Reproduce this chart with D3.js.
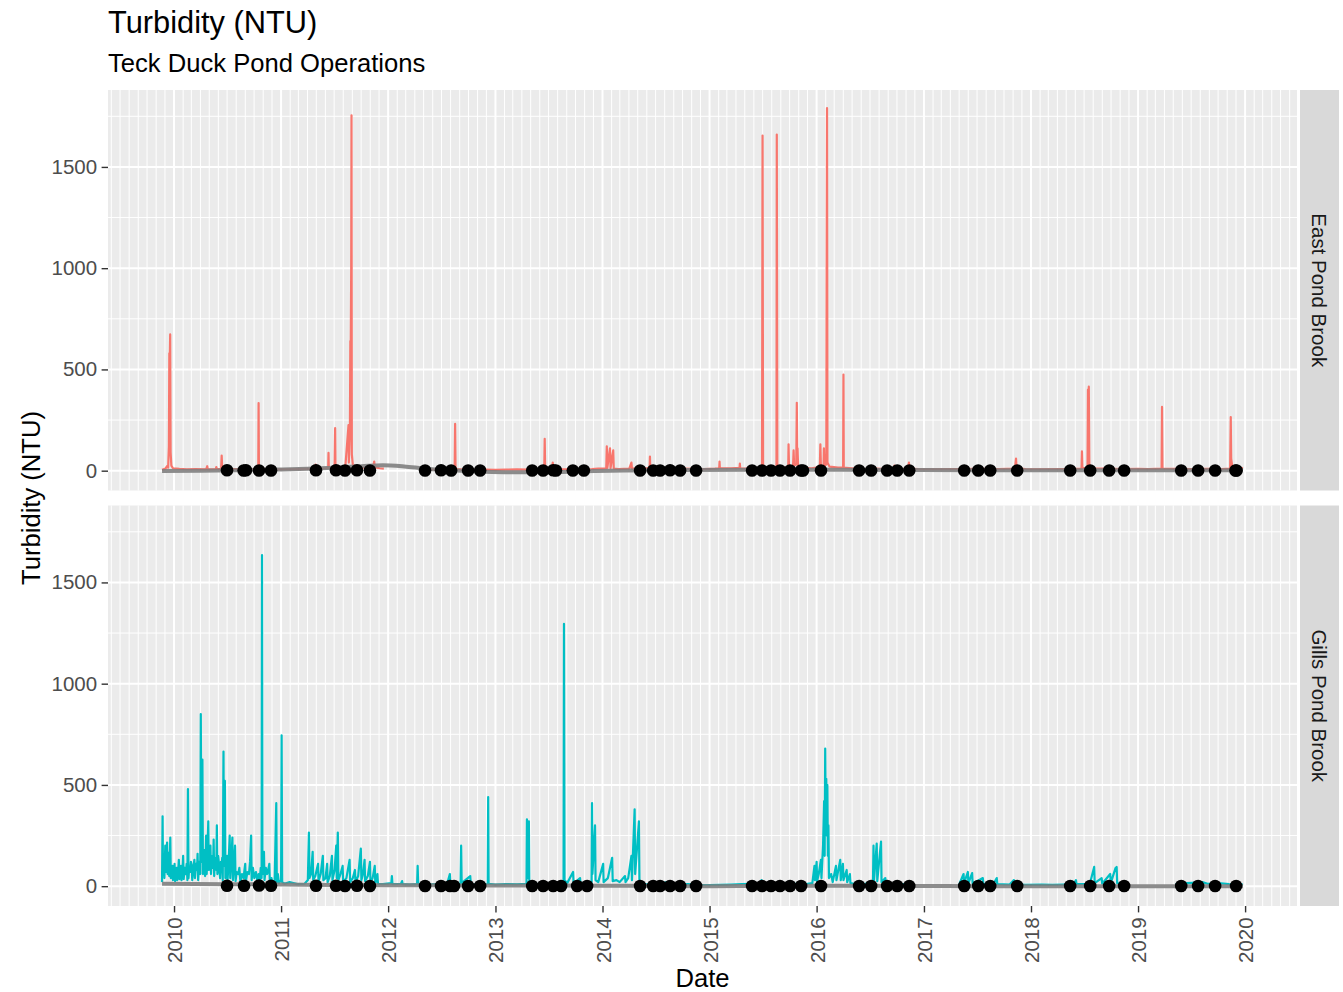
<!DOCTYPE html>
<html>
<head>
<meta charset="utf-8">
<script src="https://cdn.jsdelivr.net/npm/d3@7"></script>
<style>
  html, body { margin: 0; padding: 0; background: #ffffff; }
  svg { display: block; font-family: "Liberation Sans", Arial, sans-serif; }
</style>
</head>
<body>
<svg id="chart" width="1343" height="992"></svg>
<script>
// ---- Data (time as decimal year, turbidity in NTU) ----
const sites = ["East Pond Brook", "Gills Pond Brook"];
const siteColors = ["#F8766D", "#00BFC4"];

// Continuous logger record, East Pond Brook (null = no record)
const eastPondBrook = [
  [2009.888, 4], [2009.92, 10], [2009.935, 22], [2009.945, 15], [2009.952, 120], [2009.956, 580],
  [2009.960, 540], [2009.964, 673], [2009.968, 90], [2009.975, 25], [2009.99, 12], [2010.05, 9],
  [2010.12, 7], [2010.20, 8], [2010.30, 6], [2010.31, 22], [2010.315, 6], [2010.39, 7], [2010.395, 18],
  [2010.40, 7], [2010.44, 9], [2010.445, 75], [2010.45, 10], [2010.55, 8], [2010.65, 7], [2010.75, 9],
  [2010.787, 12], [2010.790, 334], [2010.793, 14], [2010.85, 8], [2010.95, 6], [2011.05, 7],
  [2011.15, 8], [2011.25, 9], [2011.32, 10], [2011.323, 30], [2011.326, 9], [2011.42, 12],
  [2011.44, 14], [2011.443, 88], [2011.446, 14], [2011.50, 12], [2011.505, 210], [2011.508, 15],
  [2011.56, 14], [2011.60, 18], [2011.63, 225], [2011.633, 40], [2011.643, 200], [2011.647, 640],
  [2011.651, 620], [2011.655, 1000], [2011.658, 1755], [2011.661, 80], [2011.67, 30], [2011.70, 20],
  [2011.75, 16], [2011.80, 14], [2011.86, 18], [2011.87, 45], [2011.875, 16], [2011.92, 12],
  [2011.96, 10], [2011.97, null],
  [2012.33, 8], [2012.40, 6], [2012.50, 5], [2012.58, 6], [2012.62, 7], [2012.624, 231],
  [2012.628, 8], [2012.70, 5], [2012.80, 4], [2012.90, 5], [2013.00, 4], [2013.10, 5], [2013.20, 6],
  [2013.30, 5], [2013.40, 8], [2013.456, 10], [2013.46, 157], [2013.464, 12], [2013.50, 10],
  [2013.53, 14], [2013.535, 40], [2013.54, 12], [2013.60, 8], [2013.70, 6], [2013.80, 7],
  [2013.90, 8], [2013.96, 10], [2014.035, 12], [2014.04, 120], [2014.045, 14], [2014.07, 110],
  [2014.075, 12], [2014.10, 100], [2014.105, 10], [2014.15, 8], [2014.25, 10], [2014.27, 40],
  [2014.275, 10], [2014.35, 12], [2014.44, 12], [2014.443, 70], [2014.446, 12], [2014.55, 10],
  [2014.65, 8], [2014.75, 10], [2014.85, 9], [2014.95, 8], [2015.05, 10], [2015.09, 12],
  [2015.093, 45], [2015.096, 12], [2015.20, 12], [2015.28, 14], [2015.283, 35], [2015.286, 12],
  [2015.40, 10], [2015.49, 12], [2015.495, 1655], [2015.50, 14], [2015.55, 12], [2015.625, 14],
  [2015.628, 1660], [2015.633, 15], [2015.70, 14], [2015.735, 20], [2015.738, 130], [2015.742, 18],
  [2015.78, 22], [2015.785, 100], [2015.79, 25], [2015.81, 30], [2015.815, 335], [2015.819, 30],
  [2015.822, 110], [2015.827, 20], [2015.87, 15], [2015.95, 12], [2016.03, 18], [2016.035, 130],
  [2016.04, 20], [2016.065, 25], [2016.068, 110], [2016.072, 25], [2016.09, 30], [2016.093, 900],
  [2016.097, 1790], [2016.101, 40], [2016.12, 20], [2016.20, 15], [2016.247, 15], [2016.25, 475],
  [2016.253, 15], [2016.35, 10], [2016.45, 8], [2016.55, 10], [2016.65, 8], [2016.72, 10],
  [2016.725, 25], [2016.73, 10], [2016.80, 8], [2016.85, 10], [2016.86, 40], [2016.865, 10],
  [2016.95, 8], [2017.10, 7], [2017.30, 8], [2017.50, 9], [2017.70, 8], [2017.85, 10],
  [2017.86, 60], [2017.865, 12], [2017.95, 8], [2018.10, 7], [2018.30, 8], [2018.472, 10],
  [2018.476, 95], [2018.48, 12], [2018.528, 14], [2018.532, 400], [2018.536, 60], [2018.540, 415],
  [2018.545, 20], [2018.60, 12], [2018.70, 10], [2018.85, 8], [2019.00, 9], [2019.10, 8],
  [2019.22, 10], [2019.224, 315], [2019.228, 10], [2019.35, 9], [2019.50, 8], [2019.65, 9],
  [2019.78, 8], [2019.86, 10], [2019.866, 265], [2019.87, 60], [2019.88, 20], [2019.98, 12]
];

// Continuous logger record, Gills Pond Brook (null = no record)
const gillsPondBrook = [
  [2009.888, 20], [2009.893, 345], [2009.897, 60], [2009.901, 150], [2009.905, 120], [2009.91, 40],
  [2009.914, 110], [2009.918, 200], [2009.922, 70], [2009.925, 80], [2009.93, 140], [2009.935, 215],
  [2009.94, 60], [2009.945, 110], [2009.95, 165], [2009.955, 50], [2009.96, 120], [2009.965, 240],
  [2009.97, 40], [2009.977, 80], [2009.985, 100], [2009.99, 30], [2009.995, 70], [2010.00, 60],
  [2010.005, 110], [2010.01, 25], [2010.018, 60], [2010.025, 90], [2010.03, 30], [2010.038, 70],
  [2010.045, 130], [2010.05, 35], [2010.058, 80], [2010.065, 100], [2010.07, 30], [2010.078, 60],
  [2010.085, 150], [2010.09, 35], [2010.10, 90], [2010.11, 60], [2010.118, 110], [2010.125, 30],
  [2010.13, 480], [2010.135, 40], [2010.142, 90], [2010.15, 70], [2010.158, 120], [2010.165, 100],
  [2010.17, 30], [2010.18, 90], [2010.19, 130], [2010.195, 40], [2010.205, 110], [2010.215, 80],
  [2010.22, 160], [2010.225, 30], [2010.235, 120], [2010.245, 60], [2010.25, 850], [2010.255, 200],
  [2010.26, 120], [2010.265, 625], [2010.27, 60], [2010.278, 180], [2010.285, 150], [2010.29, 50],
  [2010.295, 140], [2010.30, 250], [2010.305, 60], [2010.312, 170], [2010.32, 320], [2010.325, 80],
  [2010.332, 150], [2010.34, 200], [2010.345, 60], [2010.352, 130], [2010.36, 150], [2010.365, 90],
  [2010.37, 230], [2010.375, 50], [2010.382, 140], [2010.39, 120], [2010.395, 80], [2010.40, 300],
  [2010.405, 60], [2010.412, 150], [2010.42, 110], [2010.43, 40], [2010.438, 120], [2010.445, 80],
  [2010.45, 140], [2010.455, 30], [2010.462, 665], [2010.466, 100], [2010.47, 180], [2010.475, 520],
  [2010.48, 40], [2010.488, 110], [2010.495, 150], [2010.50, 30], [2010.51, 120], [2010.52, 250],
  [2010.525, 40], [2010.535, 130], [2010.545, 240], [2010.55, 30], [2010.56, 110], [2010.57, 200],
  [2010.575, 25], [2010.585, 70], [2010.60, 60], [2010.61, 90], [2010.62, 20], [2010.635, 60],
  [2010.65, 40], [2010.658, 80], [2010.665, 110], [2010.67, 20], [2010.685, 70], [2010.70, 60],
  [2010.71, 120], [2010.72, 250], [2010.725, 30], [2010.737, 90], [2010.75, 40], [2010.765, 70],
  [2010.78, 20], [2010.79, 60], [2010.80, 30], [2010.81, 90], [2010.818, 40], [2010.822, 1635],
  [2010.826, 60], [2010.833, 100], [2010.84, 170], [2010.845, 30], [2010.858, 90], [2010.87, 60],
  [2010.88, 80], [2010.89, 110], [2010.895, 20], [2010.91, 40], [2010.92, 15], [2010.94, 30],
  [2010.955, 410], [2010.96, 20], [2010.97, 60], [2010.98, 15], [2011.00, 30], [2011.005, 745],
  [2011.01, 20], [2011.03, 12], [2011.08, 20], [2011.15, 10], [2011.22, 12],
  [2011.25, 30], [2011.26, 265], [2011.265, 40], [2011.28, 60], [2011.295, 170], [2011.30, 30],
  [2011.32, 50], [2011.345, 110], [2011.35, 25], [2011.37, 60], [2011.39, 150], [2011.395, 30],
  [2011.415, 40], [2011.43, 110], [2011.435, 20], [2011.455, 50], [2011.475, 150], [2011.48, 30],
  [2011.50, 80], [2011.515, 200], [2011.52, 40], [2011.53, 265], [2011.535, 30], [2011.555, 60],
  [2011.575, 100], [2011.58, 20], [2011.61, 40], [2011.64, 130], [2011.645, 20], [2011.67, 40],
  [2011.69, 80], [2011.695, 20], [2011.72, 50], [2011.745, 185], [2011.75, 30], [2011.765, 60],
  [2011.78, 130], [2011.785, 25], [2011.81, 50], [2011.83, 120], [2011.835, 20], [2011.855, 40],
  [2011.875, 100], [2011.88, 15], [2011.90, 60], [2011.905, 12], [2011.95, 10], [2012.03, 15],
  [2012.035, 50], [2012.04, 10], [2012.12, 12], [2012.13, 25], [2012.135, 10], [2012.20, 8],
  [2012.27, 10], [2012.275, 100], [2012.28, 10], [2012.35, 8], [2012.45, 10], [2012.55, 12],
  [2012.575, 60], [2012.58, 10], [2012.675, 12], [2012.68, 200], [2012.685, 15], [2012.765, 50],
  [2012.77, 10], [2012.85, 8], [2012.928, 10], [2012.932, 440], [2012.936, 12], [2013.00, 8],
  [2013.10, 10], [2013.20, 9], [2013.29, 12], [2013.294, 330], [2013.298, 40], [2013.312, 320],
  [2013.316, 15], [2013.40, 10], [2013.50, 12], [2013.60, 14], [2013.636, 20], [2013.64, 1295],
  [2013.645, 30], [2013.67, 15], [2013.725, 70], [2013.73, 12], [2013.79, 40], [2013.795, 10],
  [2013.85, 15], [2013.898, 20], [2013.902, 410], [2013.906, 60], [2013.93, 300], [2013.935, 30],
  [2013.96, 20], [2014.006, 110], [2014.01, 20], [2014.05, 40], [2014.09, 140], [2014.095, 25],
  [2014.13, 30], [2014.16, 20], [2014.21, 50], [2014.215, 20], [2014.24, 40], [2014.27, 150],
  [2014.275, 30], [2014.30, 380], [2014.305, 60], [2014.34, 320], [2014.345, 20], [2014.38, 10],
  [2014.45, 8], [2014.55, 12], [2014.60, 20], [2014.605, 10], [2014.70, 8], [2014.80, 10],
  [2014.90, 6], [2015.00, 5], [2015.10, 6], [2015.20, 8], [2015.30, 10], [2015.40, 12],
  [2015.48, 10], [2015.485, 30], [2015.49, 10], [2015.60, 8], [2015.70, 10], [2015.75, 25],
  [2015.755, 10], [2015.80, 12], [2015.90, 10], [2015.96, 15], [2015.98, 100], [2015.985, 30],
  [2016.00, 120], [2016.005, 25], [2016.02, 60], [2016.04, 130], [2016.045, 40], [2016.06, 200],
  [2016.07, 420], [2016.075, 150], [2016.08, 680], [2016.085, 300], [2016.09, 530], [2016.095, 250],
  [2016.10, 500], [2016.105, 150], [2016.11, 300], [2016.115, 40], [2016.135, 60], [2016.15, 20],
  [2016.18, 100], [2016.185, 30], [2016.22, 130], [2016.225, 30], [2016.245, 110], [2016.25, 30],
  [2016.28, 80], [2016.285, 20], [2016.31, 60], [2016.315, 15], [2016.35, 12], [2016.40, 10],
  [2016.45, 12], [2016.525, 20], [2016.53, 200], [2016.535, 30], [2016.56, 210], [2016.565, 25],
  [2016.60, 220], [2016.605, 20], [2016.64, 40], [2016.645, 10], [2016.72, 8], [2016.80, 10],
  [2016.87, 8], [2016.88, null],
  [2017.33, 10], [2017.37, 60], [2017.375, 15], [2017.41, 70], [2017.415, 15], [2017.45, 65],
  [2017.455, 12], [2017.55, 40], [2017.555, 10], [2017.65, 12], [2017.68, 40], [2017.685, 10],
  [2017.80, 8], [2017.84, 30], [2017.845, 8], [2017.95, 6], [2018.10, 8], [2018.20, 6],
  [2018.30, 8], [2018.40, 10], [2018.42, 30], [2018.425, 10], [2018.55, 12], [2018.59, 95],
  [2018.595, 15], [2018.66, 40], [2018.665, 12], [2018.74, 60], [2018.745, 15], [2018.79, 90],
  [2018.80, 95], [2018.805, 15], [2018.88, 12], [2018.89, null],
  [2019.35, 10], [2019.45, 15], [2019.55, 18], [2019.60, 20], [2019.65, 12], [2019.75, 15],
  [2019.85, 10], [2019.98, 8]
];

// Smoothed trend per site
const eastTrend = [
  [2009.888, -2], [2010.25, 0], [2010.75, 3], [2011.0, 6], [2011.25, 10], [2011.5, 15],
  [2011.75, 22], [2011.95, 27], [2012.15, 21], [2012.35, 10], [2012.6, 2], [2012.9, -5],
  [2013.2, -8], [2013.5, -7], [2013.8, -3], [2014.2, 1], [2014.8, 3], [2015.5, 4],
  [2016.2, 4], [2017.0, 3], [2018.0, 2], [2019.0, 2], [2019.98, 2]
];
const gillsTrend = [
  [2009.888, 12], [2010.5, 10], [2011.0, 8], [2011.5, 6], [2012.0, 5], [2012.5, 4],
  [2013.0, 3], [2013.5, 3], [2014.0, 2], [2014.5, 1], [2015.0, 0], [2015.5, 1],
  [2016.0, 2], [2016.5, 2], [2017.0, 1], [2017.5, 0], [2018.0, 0], [2018.5, 0],
  [2019.0, 0], [2019.98, 0]
];

// Grab-sample results
const eastSamples = [
  [2010.495, 2], [2010.650, 1], [2010.672, 2], [2010.794, 1], [2010.906, 1], [2011.326, 2],
  [2011.513, 2], [2011.597, 1], [2011.709, 2], [2011.830, 1], [2012.344, 1], [2012.493, 2],
  [2012.587, 1], [2012.745, 1], [2012.857, 1], [2013.343, 1], [2013.445, 1], [2013.539, 2],
  [2013.565, 1], [2013.723, 1], [2013.826, 1], [2014.351, 1], [2014.473, 1], [2014.538, 1],
  [2014.631, 2], [2014.725, 1], [2014.874, 1], [2015.397, 1], [2015.490, 1], [2015.574, 1],
  [2015.658, 1], [2015.752, 1], [2015.855, 1], [2015.873, 1], [2016.041, 1], [2016.396, 1],
  [2016.508, 1], [2016.657, 1], [2016.751, 1], [2016.863, 1], [2017.376, 1], [2017.507, 1],
  [2017.619, 1], [2017.871, 1], [2018.366, 1], [2018.553, 1], [2018.730, 1], [2018.870, 1],
  [2019.403, 1], [2019.561, 1], [2019.720, 1], [2019.910, 1], [2019.920, 1]
];
const gillsSamples = [
  [2010.495, 2], [2010.654, 2], [2010.794, 3], [2010.906, 2], [2011.326, 2], [2011.513, 2],
  [2011.597, 1], [2011.709, 2], [2011.830, 1], [2012.344, 1], [2012.493, 1], [2012.577, 1],
  [2012.614, 1], [2012.745, 1], [2012.857, 1], [2013.343, 1], [2013.445, 1], [2013.539, 1],
  [2013.613, 1], [2013.763, 1], [2013.856, 1], [2014.351, 1], [2014.473, 1], [2014.538, 1],
  [2014.631, 1], [2014.725, 1], [2014.874, 1], [2015.397, 1], [2015.490, 1], [2015.574, 1],
  [2015.658, 1], [2015.752, 1], [2015.855, 1], [2016.041, 1], [2016.396, 1], [2016.508, 1],
  [2016.657, 1], [2016.751, 1], [2016.863, 1], [2017.376, 1], [2017.507, 1], [2017.619, 1],
  [2017.871, 1], [2018.366, 1], [2018.553, 1], [2018.730, 1], [2018.870, 1], [2019.403, 1],
  [2019.561, 1], [2019.720, 1], [2019.916, 1]
];

const yTickValues = [0, 500, 1000, 1500];
const yMinorValues = [250, 750, 1250, 1750];
const titleText = "Turbidity (NTU)";
const subtitleText = "Teck Duck Pond Operations";
const xTitleText = "Date";
const yTitleText = "Turbidity (NTU)";

// ---- Helpers ----
function toDate(y) {
  const yr = Math.floor(y);
  const a = new Date(yr, 0, 1), b = new Date(yr + 1, 0, 1);
  return new Date(+a + (y - yr) * (b - a));
}
const asPoints = arr => arr.map(([t, v]) => ({ date: toDate(t), v }));

const records = [asPoints(eastPondBrook), asPoints(gillsPondBrook)];
const trends = [asPoints(eastTrend), asPoints(gillsTrend)];
const samples = [asPoints(eastSamples), asPoints(gillsSamples)];

// ---- Layout ----
const svg = d3.select("#chart");
const panelLeft = 108, panelRight = 1297;
const panels = [{ top: 90, bottom: 490.5 }, { top: 505.5, bottom: 906 }];
const stripLeft = 1300, stripRight = 1339;

// Shared scales (fixed facets) with 5% expansion
const allDates = records.flat().concat(trends.flat(), samples.flat()).map(d => d.date);
const allVals = records.flat().concat(trends.flat(), samples.flat()).map(d => d.v).filter(v => v != null);
const [d0, d1] = d3.extent(allDates);
const dSpan = d1 - d0;
const x = d3.scaleTime()
  .domain([new Date(+d0 - 0.05 * dSpan), new Date(+d1 + 0.05 * dSpan)])
  .range([panelLeft, panelRight]);
const [v0, v1] = d3.extent(allVals);
const vSpan = v1 - v0;
const yDomain = [v0 - 0.05 * vSpan, v1 + 0.05 * vSpan];

const yearTicks = x.ticks(d3.timeYear.every(1));
const monthTicks = d3.timeMonth.range(x.domain()[0], x.domain()[1]).filter(d => d.getMonth() !== 0);

// ---- Titles ----
svg.append("text").attr("x", 108).attr("y", 33)
  .attr("font-size", 30.8).attr("fill", "#000").text(titleText);
svg.append("text").attr("x", 108).attr("y", 71.5)
  .attr("font-size", 25.6).attr("fill", "#000").text(subtitleText);

panels.forEach((p, i) => {
  const y = d3.scaleLinear().domain(yDomain).range([p.bottom, p.top]);
  const g = svg.append("g");

  // panel background
  g.append("rect").attr("x", panelLeft).attr("y", p.top)
    .attr("width", panelRight - panelLeft).attr("height", p.bottom - p.top)
    .attr("fill", "#EBEBEB");

  // minor grid
  g.selectAll(".vminor").data(monthTicks).join("line")
    .attr("x1", d => x(d)).attr("x2", d => x(d))
    .attr("y1", p.top).attr("y2", p.bottom)
    .attr("stroke", "#fff").attr("stroke-width", 1);
  g.selectAll(".hminor").data(yMinorValues).join("line")
    .attr("x1", panelLeft).attr("x2", panelRight)
    .attr("y1", d => y(d)).attr("y2", d => y(d))
    .attr("stroke", "#fff").attr("stroke-width", 1);
  // major grid
  g.selectAll(".vmajor").data(yearTicks).join("line")
    .attr("x1", d => x(d)).attr("x2", d => x(d))
    .attr("y1", p.top).attr("y2", p.bottom)
    .attr("stroke", "#fff").attr("stroke-width", 2);
  g.selectAll(".hmajor").data(yTickValues).join("line")
    .attr("x1", panelLeft).attr("x2", panelRight)
    .attr("y1", d => y(d)).attr("y2", d => y(d))
    .attr("stroke", "#fff").attr("stroke-width", 2);

  const clipId = "clip" + i;
  svg.append("clipPath").attr("id", clipId).append("rect")
    .attr("x", panelLeft).attr("y", p.top)
    .attr("width", panelRight - panelLeft).attr("height", p.bottom - p.top);
  const plot = g.append("g").attr("clip-path", `url(#${clipId})`);

  const line = d3.line().defined(d => d.v != null).x(d => x(d.date)).y(d => y(d.v));

  // logger record
  plot.append("path").datum(records[i]).attr("d", line)
    .attr("fill", "none").attr("stroke", siteColors[i])
    .attr("stroke-width", 2.2).attr("stroke-linejoin", "round");
  // trend
  plot.append("path").datum(trends[i]).attr("d", d3.line().curve(d3.curveMonotoneX).x(d => x(d.date)).y(d => y(d.v)))
    .attr("fill", "none").attr("stroke", "#7F7F7F").attr("stroke-opacity", 0.9)
    .attr("stroke-width", 4).attr("stroke-linecap", "butt");
  // samples
  plot.selectAll("circle").data(samples[i]).join("circle")
    .attr("cx", d => x(d.date)).attr("cy", d => y(d.v)).attr("r", 6.3).attr("fill", "#000");

  // y axis
  const yAxis = g.append("g").attr("transform", `translate(${panelLeft},0)`)
    .call(d3.axisLeft(y).tickValues(yTickValues).tickSize(6.4).tickPadding(4.5).tickFormat(d3.format("d")));
  yAxis.select(".domain").remove();
  yAxis.selectAll("line").attr("stroke", "#333").attr("stroke-width", 1.4);
  yAxis.selectAll("text").attr("font-size", 20.5).attr("fill", "#4D4D4D")
    .attr("font-family", "'Liberation Sans', Arial, sans-serif");

  // strip
  g.append("rect").attr("x", stripLeft).attr("y", p.top)
    .attr("width", stripRight - stripLeft).attr("height", p.bottom - p.top).attr("fill", "#D9D9D9");
  g.append("text")
    .attr("transform", `translate(${(stripLeft + stripRight) / 2},${(p.top + p.bottom) / 2}) rotate(90)`)
    .attr("text-anchor", "middle").attr("dominant-baseline", "central")
    .attr("font-size", 20.5).attr("fill", "#1A1A1A").text(sites[i]);
});

// x axis under the bottom panel
const xAxis = svg.append("g").attr("transform", `translate(0,${panels[1].bottom})`)
  .call(d3.axisBottom(x).tickValues(yearTicks).tickSize(6.4).tickPadding(5).tickFormat(d3.timeFormat("%Y")));
xAxis.select(".domain").remove();
xAxis.selectAll("line").attr("stroke", "#333").attr("stroke-width", 1.4);
xAxis.selectAll("text")
  .attr("font-size", 20.5).attr("fill", "#4D4D4D")
  .attr("font-family", "'Liberation Sans', Arial, sans-serif")
  .attr("text-anchor", "end").attr("dy", null)
  .attr("dominant-baseline", "central")
  .attr("transform", "translate(0,11.4) rotate(-90)")
  .attr("y", 0).attr("x", 0);

// axis titles
svg.append("text").attr("x", (panelLeft + panelRight) / 2).attr("y", 987)
  .attr("text-anchor", "middle").attr("font-size", 25.6).attr("fill", "#000").text(xTitleText);
svg.append("text")
  .attr("transform", `translate(40,${(panels[0].top + panels[1].bottom) / 2}) rotate(-90)`)
  .attr("text-anchor", "middle").attr("font-size", 25.6).attr("fill", "#000").text(yTitleText);
</script>
</body>
</html>
